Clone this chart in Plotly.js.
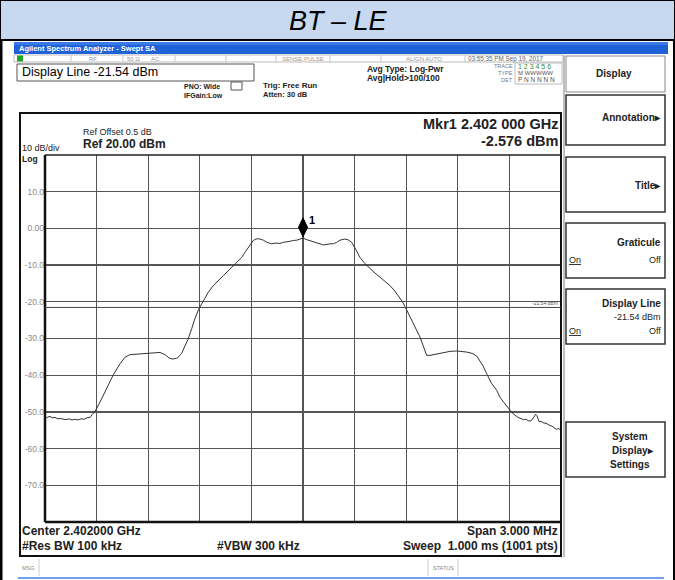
<!DOCTYPE html>
<html>
<head>
<meta charset="utf-8">
<script src="https://cdn.plot.ly/plotly-3.0.1.min.js"></script>
<style>html,body{margin:0;padding:0;background:#fff;}#chart{width:675px;height:580px;}</style>
</head>
<body>
<div id="chart"></div>
<script>
// ---- data ----
const freqMHz = [2400.503,2400.512,2400.529,2400.541,2400.558,2400.576,2400.587,2400.605,2400.622,2400.640,2400.657,2400.674,2400.692,2400.709,2400.727,2400.744,2400.762,2400.773,2400.791,2400.820,2400.859,2400.897,2400.936,2400.965,2400.994,2401.023,2401.052,2401.081,2401.110,2401.140,2401.169,2401.198,2401.221,2401.238,2401.266,2401.279,2401.295,2401.314,2401.331,2401.353,2401.372,2401.395,2401.420,2401.448,2401.478,2401.506,2401.537,2401.564,2401.595,2401.616,2401.644,2401.663,2401.682,2401.698,2401.711,2401.727,2401.740,2401.756,2401.769,2401.791,2401.818,2401.843,2401.866,2401.886,2401.907,2401.924,2401.944,2401.965,2401.983,2402.000,2402.017,2402.035,2402.051,2402.070,2402.093,2402.118,2402.140,2402.157,2402.176,2402.196,2402.215,2402.233,2402.244,2402.262,2402.283,2402.302,2402.331,2402.360,2402.390,2402.419,2402.448,2402.477,2402.506,2402.529,2402.554,2402.576,2402.593,2402.610,2402.632,2402.657,2402.680,2402.699,2402.719,2402.738,2402.758,2402.785,2402.816,2402.855,2402.894,2402.924,2402.952,2402.971,2402.990,2403.012,2403.029,2403.047,2403.068,2403.097,2403.126,2403.145,2403.169,2403.194,2403.215,2403.233,2403.250,2403.267,2403.281,2403.297,2403.308,2403.320,2403.331,2403.343,2403.352,2403.360,2403.372,2403.384,2403.397,2403.413,2403.424,2403.436,2403.448,2403.459,2403.475,2403.484,2403.500];
const levelDbm = [-51.8,-51.5,-51.2,-51.6,-51.5,-51.9,-51.8,-52.0,-52.1,-51.9,-52.2,-52.0,-52.2,-51.9,-52.0,-51.6,-51.5,-50.8,-49.9,-47.3,-43.4,-39.9,-36.9,-35.1,-34.4,-34.3,-34.2,-34.1,-34.0,-34.0,-33.8,-34.4,-35.3,-35.6,-35.4,-34.9,-34.0,-32.0,-30.3,-27.3,-24.5,-21.9,-19.7,-17.5,-15.6,-14.2,-12.9,-11.6,-10.1,-9.2,-7.9,-6.5,-5.2,-4.0,-3.3,-2.9,-2.8,-3.0,-3.2,-3.8,-4.2,-4.0,-4.1,-3.8,-3.7,-3.5,-3.3,-3.2,-2.9,-2.6,-3.0,-3.3,-3.5,-3.9,-4.3,-4.5,-4.4,-4.2,-4.2,-3.8,-3.2,-2.9,-2.9,-3.1,-3.8,-5.3,-7.9,-9.6,-11.0,-12.2,-13.3,-14.4,-15.6,-16.8,-18.3,-19.8,-21.3,-23.0,-25.1,-27.3,-29.6,-32.0,-34.6,-34.6,-34.4,-34.0,-33.7,-33.5,-33.4,-33.5,-33.7,-33.9,-34.2,-34.9,-36.0,-37.5,-39.6,-42.3,-44.1,-46.0,-47.5,-49.1,-50.2,-50.9,-51.5,-51.8,-52.1,-52.0,-52.4,-52.5,-52.2,-51.4,-50.6,-51.0,-52.6,-52.6,-53.0,-53.1,-53.5,-53.7,-53.9,-54.2,-54.8,-54.5,-55.0];
const yTickVals = [10, 0, -10, -20, -30, -40, -50, -60, -70];
const yTickText = ['10.0', '0.00', '-10.0', '-20.0', '-30.0', '-40.0', '-50.0', '-60.0', '-70.0'];
const freqStart = 2400.5, freqStop = 2403.5, freqStep = 0.3;
const refLevel = 20, bottomLevel = -80;
const displayLine = -21.54;
const markerFreq = 2402.000, markerLevel = -2.576;

// ---- layout helpers (pixel -> paper) ----
const L = 45, T = 155, R = 561, B = 522, W = 675, H = 580;
const px = x => (x - L) / (R - L);
const py = y => (B - y) / (B - T);
const FONT = 'Arial, "Liberation Sans", sans-serif';
const shapes = [];
const ann = [];
function rect(x0, y0, x1, y1, opt) {
  shapes.push(Object.assign({type:'rect', xref:'paper', yref:'paper', x0:px(x0), x1:px(x1), y0:py(y0), y1:py(y1), line:{width:0}}, opt||{}));
}
function line(x0, y0, x1, y1, color, width) {
  shapes.push({type:'line', xref:'paper', yref:'paper', x0:px(x0), x1:px(x1), y0:py(y0), y1:py(y1), line:{color:color, width:width}});
}
function text(t, x, y, size, opt) {
  ann.push(Object.assign({text:t, xref:'paper', yref:'paper', x:px(x), y:py(y), showarrow:false,
    xanchor:'left', yanchor:'middle', font:{family:FONT, size:size, color:'#000'}, borderpad:0}, opt||{}));
}

// header box
rect(0, 0, 675, 40, {fillcolor:'#c6d9f1', line:{color:'#000', width:2}});
text('<i>BT – LE</i>', 338, 21, 27, {xanchor:'center'});
// outer sides
line(1, 40, 1, 580, '#000', 3);
line(674, 40, 674, 580, '#000', 2);

// title bar
rect(14, 42, 668, 54, {fillcolor:'#1f62d8'});
rect(14, 42, 668, 45, {fillcolor:'#3a7ae6'});
text('<b>Agilent Spectrum Analyzer - Swept SA</b>', 18, 48.5, 7.5, {font:{family:FONT, size:7.5, color:'#fff'}});

// status row
rect(14, 55, 563, 62, {fillcolor:'#fff', line:{color:'#bbb', width:1}});
rect(17, 55.5, 23, 61.5, {fillcolor:'#1fa81f'});
[71, 123, 175, 226, 276, 330, 381, 465].forEach(x => line(x, 55, x, 62, '#c8c8c8', 1));
const sFont = {family:FONT, size:6, color:'#999'};
text('RF', 88, 58.5, 6, {font:sFont});
text('50 Ω', 126, 58.5, 6, {font:sFont});
text('AC', 150, 58.5, 6, {font:sFont});
text('SENSE:PULSE', 303, 58.5, 6, {font:sFont, xanchor:'center'});
text('ALIGN AUTO', 424, 58.5, 6, {font:sFont, xanchor:'center'});
text('03:55:35 PM Sep 19, 2017', 467, 58.5, 6.3, {font:{family:FONT, size:6.3, color:'#666'}});

// display line box
rect(17, 64, 254, 81, {fillcolor:'#fff', line:{color:'#555', width:1}});
text('Display Line -21.54 dBm', 21, 72.5, 12.5);

// info texts
const bFont = s => ({family:FONT, size:s, color:'#222'});
text('<b>PNO: Wide</b>', 183, 86, 7, {font:bFont(7)});
text('<b>IFGain:Low</b>', 183, 95, 7, {font:bFont(7)});
rect(231, 82, 242, 90, {line:{color:'#555', width:1}});
text('<b>Trig: Free Run</b>', 262, 85, 8, {font:bFont(8)});
text('<b>Atten: 30 dB</b>', 262, 94, 7.5, {font:bFont(7.5)});
text('<b>Avg Type: Log-Pwr</b>', 366, 69, 8.5, {font:bFont(8.5)});
text('<b>Avg|Hold>100/100</b>', 366, 78, 8.5, {font:bFont(8.5)});
const tFont = {family:FONT, size:5.5, color:'#777'};
text('TRACE', 514, 66, 5.5, {font:tFont, xanchor:'right'});
text('TYPE', 514, 73, 5.5, {font:tFont, xanchor:'right'});
text('DET', 514, 80, 5.5, {font:tFont, xanchor:'right'});
rect(515, 63, 562, 84, {line:{color:'#bbb', width:1}});
text('1 2 3 4 5 6', 517, 66, 7, {font:{family:FONT, size:7, color:'#3b8a3b'}});
text('M WWWWW', 517, 73, 6, {font:{family:FONT, size:6, color:'#555'}});
text('P N N N N N', 517, 80, 6.5, {font:{family:FONT, size:6.5, color:'#555'}});

// right softkey panel
line(564, 55, 564, 557, '#aaa', 1.5);
const keyLine = {color:'#333', width:1.5};
rect(566, 56, 665, 92, {line:{color:'#888', width:1}});
text('<b>Display</b>', 614, 74, 10, {xanchor:'center', font:bFont(10)});
rect(566, 95, 665, 145, {line:keyLine});
text('<b>Annotation▸</b>', 662, 118, 10, {xanchor:'right', font:bFont(10)});
rect(566, 157, 665, 212, {line:keyLine});
text('<b>Title▸</b>', 662, 185, 10, {xanchor:'right', font:bFont(10)});
rect(566, 223, 665, 278, {line:keyLine});
text('<b>Graticule</b>', 662, 242, 10, {xanchor:'right', font:bFont(10)});
text('<u>On</u>', 568, 260, 9, {font:bFont(9)});
text('Off', 662, 260, 9, {xanchor:'right', font:bFont(9)});
rect(566, 289, 665, 344, {line:keyLine});
text('<b>Display Line</b>', 662, 303, 10, {xanchor:'right', font:bFont(10)});
text('-21.54 dBm', 662, 316.5, 9, {xanchor:'right', font:bFont(9)});
text('<u>On</u>', 568, 331, 9, {font:bFont(9)});
text('Off', 662, 331, 9, {xanchor:'right', font:bFont(9)});
rect(566, 422, 665, 477, {line:keyLine});
text('<b>System</b>', 630, 436, 10, {xanchor:'center', font:bFont(10)});
text('<b>Display▸</b>', 633, 450, 10, {xanchor:'center', font:bFont(10)});
text('<b>Settings</b>', 630, 464, 10, {xanchor:'center', font:bFont(10)});

// main analyzer box
rect(20, 113, 561, 556, {line:{color:'#111', width:2}});
line(45, T, R, T, '#222', 1.5);
line(L, T, L, B, '#111', 2.5);
line(L, B, R, B, '#111', 2.5);
text('Ref Offset 0.5 dB', 82, 132, 9, {font:bFont(9)});
text('<b>Ref 20.00 dBm</b>', 82, 144, 12, {font:bFont(12)});
text('10 dB/div', 21, 148, 9, {font:bFont(9)});
text('<b>Log</b>', 21, 158.5, 8.5, {font:bFont(8.5)});
text('<b>Mkr1 2.402 000 GHz</b>', 559, 124, 14.5, {xanchor:'right', font:bFont(14.5)});
text('<b>-2.576 dBm</b>', 559, 141, 14.5, {xanchor:'right', font:bFont(14.5)});
text('<b>Center 2.402000 GHz</b>', 21, 531, 12, {font:bFont(12)});
text('<b>#Res BW 100 kHz</b>', 21, 546, 12, {font:bFont(12)});
text('<b>#VBW 300 kHz</b>', 216, 546, 12, {font:bFont(12)});
text('<b>Span 3.000 MHz</b>', 559, 531, 12, {xanchor:'right', font:bFont(12)});
text('<b>Sweep  1.000 ms (1001 pts)</b>', 559, 546, 12, {xanchor:'right', font:bFont(12)});

// bottom status strip
line(39, 559, 39, 576, '#ccc', 1);
line(428, 559, 428, 576, '#ccc', 1);
line(458, 559, 458, 576, '#ccc', 1);
text('MSG', 21, 568, 5.5, {font:{family:FONT, size:5.5, color:'#888'}});
text('STATUS', 443, 568, 5.5, {xanchor:'center', font:{family:FONT, size:5.5, color:'#888'}});
line(18, 578, 664, 578, '#6fa3ea', 2);

// display line (data coordinates)
shapes.push({type:'line', xref:'paper', yref:'y', x0:0, x1:1, y0:displayLine, y1:displayLine, line:{color:'#444', width:1}});
ann.push({text:'-21.54 dBm', xref:'paper', yref:'y', x:1, y:displayLine, xanchor:'right', yanchor:'bottom', showarrow:false,
  font:{family:FONT, size:5, color:'#555'}, yshift:-1, xshift:-1});

// marker 1 (diamond anchored on the trace point)
shapes.push({type:'path', xref:'x', yref:'y', xsizemode:'pixel', ysizemode:'pixel', xanchor:markerFreq, yanchor:markerLevel,
  path:'M0,1 L4.5,10.5 L0,20 L-4.5,10.5 Z', fillcolor:'#000', line:{color:'#000', width:1}});
ann.push({text:'<b>1</b>', xref:'x', yref:'y', x:markerFreq, y:markerLevel, xanchor:'left', yanchor:'bottom', showarrow:false,
  font:{family:FONT, size:11, color:'#000'}, xshift:4, yshift:10});

const trace = {x:freqMHz, y:levelDbm, type:'scatter', mode:'lines', line:{color:'#333', width:1}, hoverinfo:'skip'};

const layout = {
  width:W, height:H,
  margin:{l:L, r:W - R, t:T, b:H - B, pad:0},
  paper_bgcolor:'#fff', plot_bgcolor:'#fff',
  showlegend:false,
  xaxis:{range:[freqStart, freqStop], tick0:freqStart, dtick:freqStep, showticklabels:false, ticks:'',
    showgrid:true, gridcolor:'#555', gridwidth:1.3, zeroline:false, showline:false, fixedrange:true},
  yaxis:{range:[bottomLevel, refLevel], tickvals:yTickVals, ticktext:yTickText, ticks:'',
    tickfont:{family:FONT, size:8.5, color:'#8a8a8a'}, showgrid:true, gridcolor:'#555', gridwidth:1.3,
    zeroline:false, showline:false, fixedrange:true},
  shapes:shapes,
  annotations:ann
};
Plotly.newPlot('chart', [trace], layout, {displayModeBar:false, staticPlot:true});
</script>
</body>
</html>
